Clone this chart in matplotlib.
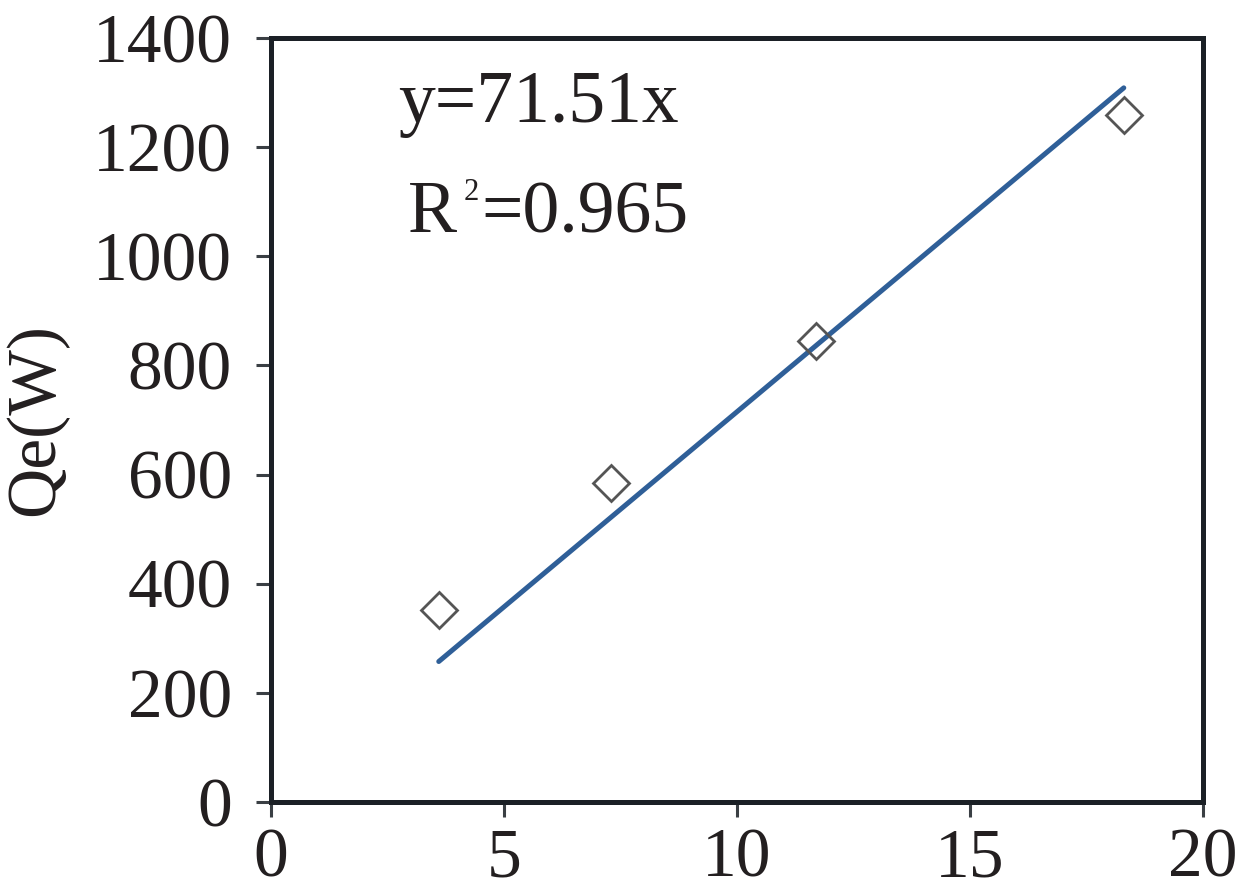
import matplotlib
matplotlib.use("Agg")
import matplotlib.pyplot as plt
import numpy as np

# Data
x_data = [3.6, 7.3, 11.7, 18.3]
y_data = [352, 585, 845, 1258]
fit_x = [3.6, 18.3]
slope = 71.51
r2 = 0.965
x_ticks = [0, 5, 10, 15, 20]
y_ticks = [0, 200, 400, 600, 800, 1000, 1200, 1400]
y_label = "Qe(W)"

plt.rcParams['font.family'] = ['Liberation Serif', 'DejaVu Serif']

fig = plt.figure(figsize=(12.44, 8.82), dpi=100)
ax = fig.add_axes([271/1244, 1 - 802/882, (1203-271)/1244, (802-38)/882])

spine_color = '#1b2026'
text_color = '#231f20'
for s in ax.spines.values():
    s.set_linewidth(3.6)
    s.set_color(spine_color)

fx = np.array(fit_x)
ax.plot(fx, slope * fx, color='#2f5f98', lw=3.6, solid_capstyle='round', zorder=2)
ax.plot(x_data, y_data, linestyle='none', marker='D', markersize=18,
        markerfacecolor='none', markeredgecolor='#555555', markeredgewidth=2.0, zorder=3)

ax.set_xlim(0, 20)
ax.set_ylim(0, 1400)
ax.set_xticks(x_ticks)
ax.set_yticks(y_ticks)
ax.tick_params(axis='both', direction='out', length=11, width=2.2, color='#3a3f44',
               labelsize=50, labelcolor=text_color)
ax.tick_params(axis='y', pad=17)
ax.tick_params(axis='x', pad=8)

ax.set_ylabel(y_label, fontsize=50, labelpad=18, color=text_color)

ax.text(0.136, 0.890, f"y={slope}x", transform=ax.transAxes, fontsize=53,
        va='baseline', ha='left', color=text_color)

# R^2 annotation composed of pieces (small raised superscript)
t_r = ax.text(0.147, 0.746, "R", transform=ax.transAxes, fontsize=53,
              va='baseline', ha='left', color=text_color)
fig.canvas.draw()
renderer = fig.canvas.get_renderer()
bb = t_r.get_window_extent(renderer)
x_after_r = bb.x1
base_y = ax.transAxes.transform((0.147, 0.746))[1]
t_sup = fig.text((x_after_r + 7) / fig.bbox.width, (base_y + 32) / fig.bbox.height, "2",
                 fontsize=22, va='baseline', ha='left', color=text_color)
bb2 = t_sup.get_window_extent(renderer)
fig.text((bb2.x1 + 2) / fig.bbox.width, base_y / fig.bbox.height, f"={r2}",
         fontsize=53, va='baseline', ha='left', color=text_color)

fig.savefig("out.png", dpi=100)
